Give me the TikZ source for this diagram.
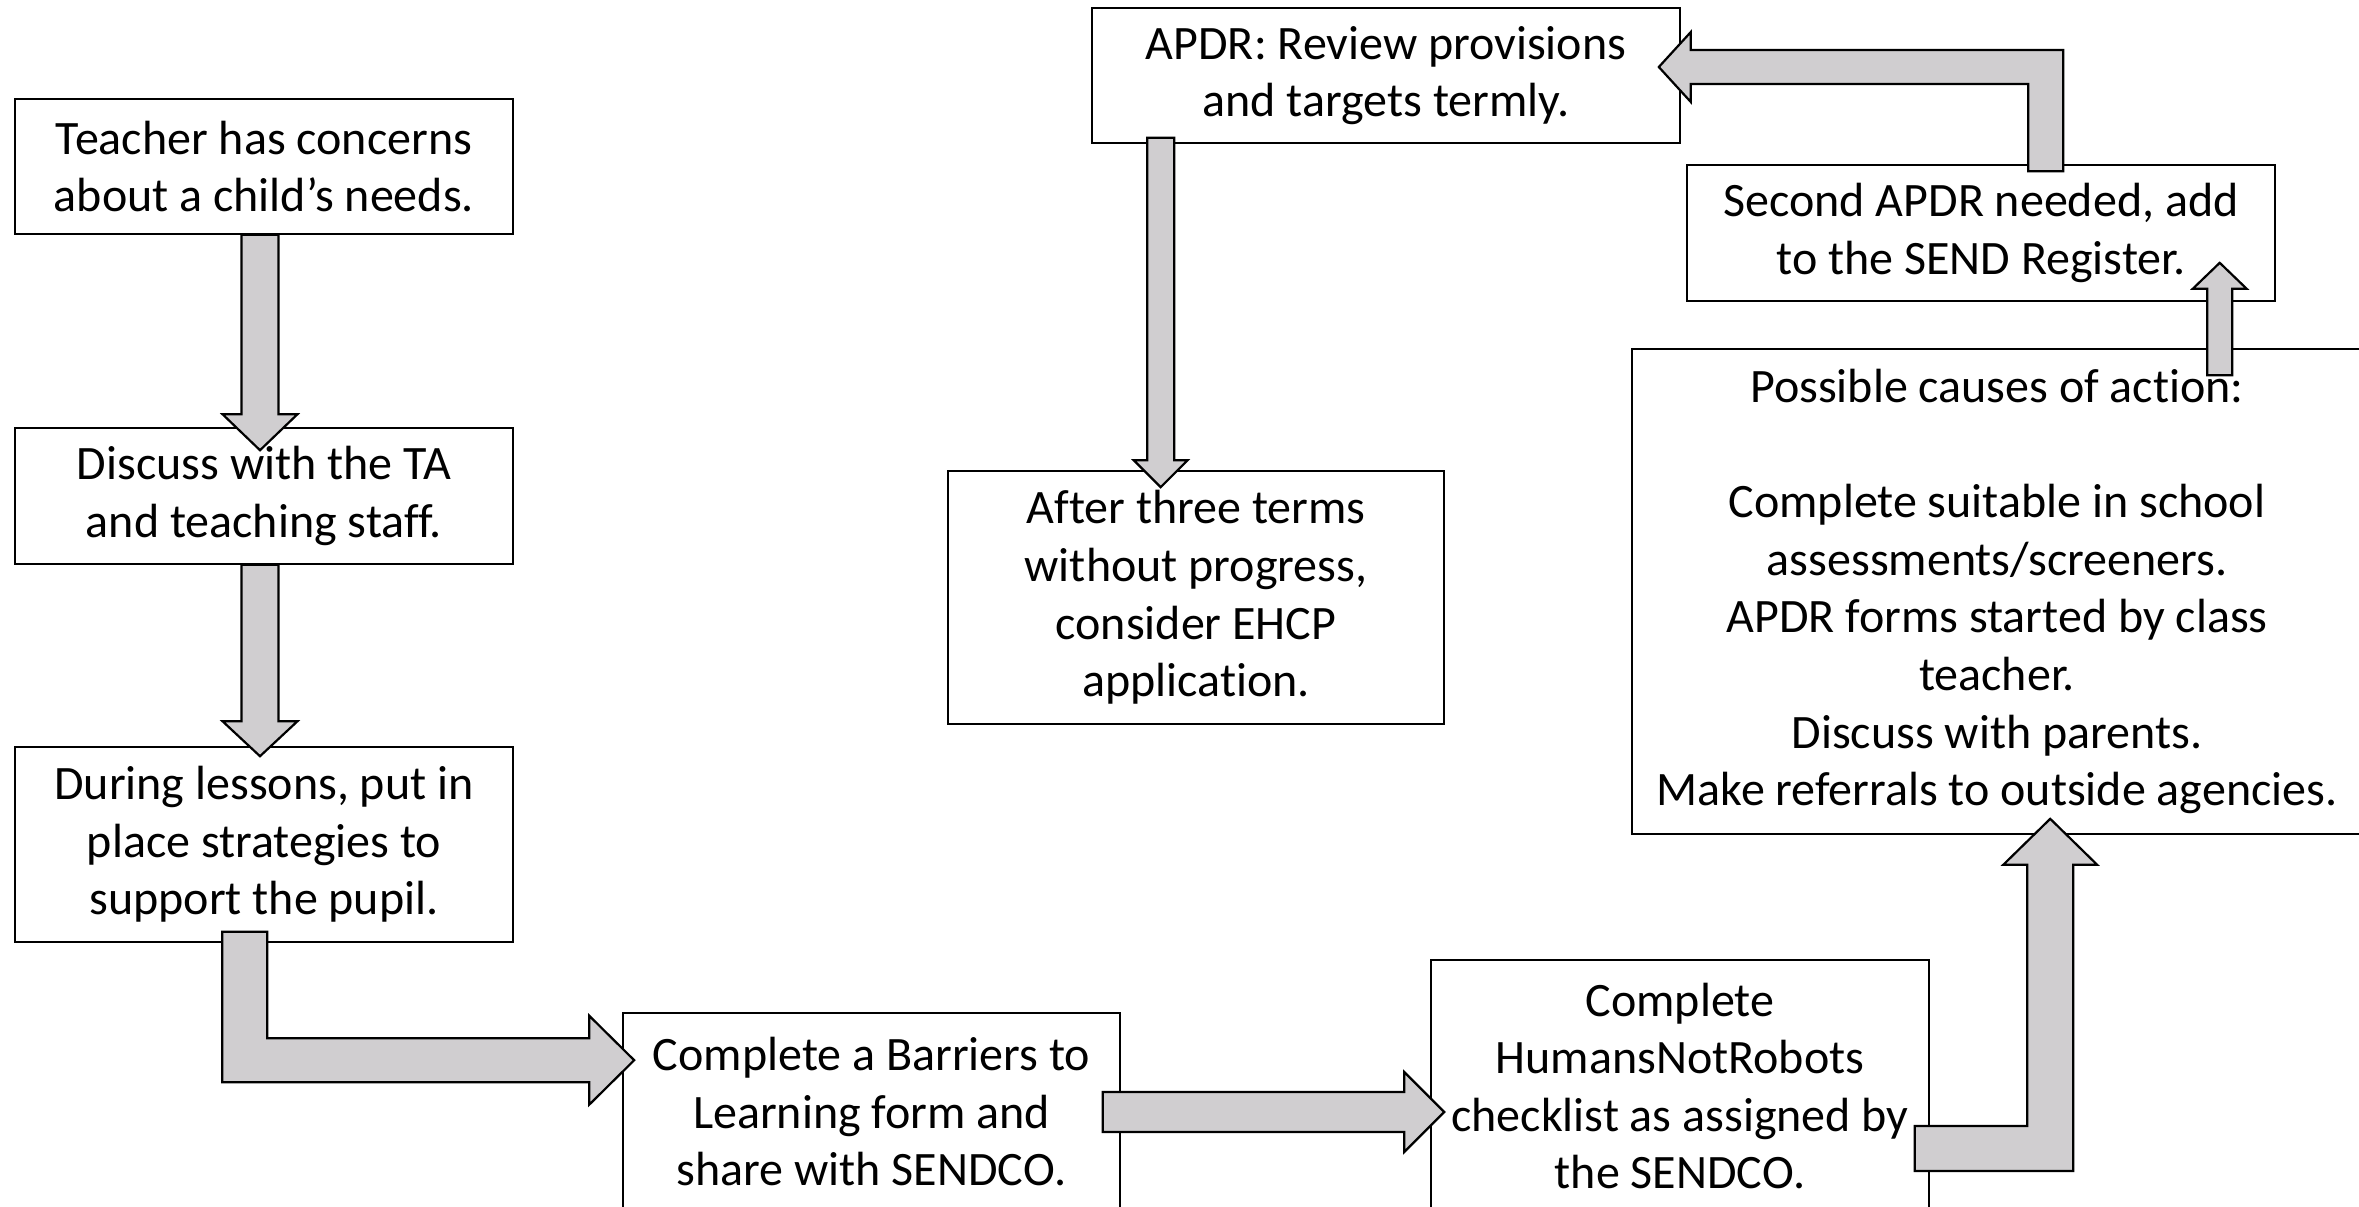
\documentclass[tikz,border=0pt]{standalone}
\usepackage{fontspec}
\setmainfont{Carlito}[Ligatures=NoCommon]
\usetikzlibrary{calc}
\definecolor{arrowgray}{RGB}{208,206,208}
\tikzset{
  box/.style={draw=black, fill=white, line width=0.8pt, align=center, inner sep=0pt,
    font=\fontsize{24pt}{28.8pt}\selectfont},
  blk/.style={draw=black, fill=arrowgray, line width=1.1pt, line join=miter}
}
% vertical block arrow: #1 start, #2 tip, #3 shaft half, #4 head half, #5 signed offset tip->head base
\newcommand{\vblock}[5]{%
  \draw[blk] ($(#1)+(-#3,0)$) -- ($(#2)+(-#3,#5)$) -- ($(#2)+(-#4,#5)$) -- (#2)
    -- ($(#2)+(#4,#5)$) -- ($(#2)+(#3,#5)$) -- ($(#1)+(#3,0)$) -- cycle;}
% horizontal block arrow
\newcommand{\hblock}[5]{%
  \draw[blk] ($(#1)+(0,-#3)$) -- ($(#2)+(#5,-#3)$) -- ($(#2)+(#5,-#4)$) -- (#2)
    -- ($(#2)+(#5,#4)$) -- ($(#2)+(#5,#3)$) -- ($(#1)+(0,#3)$) -- cycle;}
\begin{document}
\begin{tikzpicture}[x=0.5pt,y=-0.5pt]
\useasboundingbox (0,0) rectangle (2359,1206);
\clip (0,0) rectangle (2359,1206);

% boxes
\node[box, minimum width=249pt, minimum height=67.5pt] (teacher) at (264,166.5)
  {Teacher has concerns\\about a child’s needs.};
\node[box, minimum width=249pt, minimum height=68pt] (discuss) at (264,496)
  {Discuss with the TA\\and teaching staff.};
\node[box, minimum width=249pt, minimum height=97.5pt] (during) at (264,844.5)
  {During lessons, put in\\place strategies to\\support the pupil.};
\node[box, minimum width=248.5pt, minimum height=98.5pt] (barriers) at (871.5,1111.5)
  {Complete a Barriers to\\Learning form and\\share with SENDCO.};
\node[box, minimum width=249pt, minimum height=126pt] (hnr) at (1680,1086)
  {Complete\\HumansNotRobots\\checklist as assigned by\\the SENDCO.};
\node[box, minimum width=365pt, minimum height=242.5pt] (possible) at (1997,591.5)
  {Possible causes of action:\\\mbox{}\\Complete suitable in school\\assessments/screeners.\\APDR forms started by class\\teacher.\\Discuss with parents.\\Make referrals to outside agencies.};
\node[box, minimum width=294pt, minimum height=68pt] (second) at (1981,233)
  {Second APDR needed, add\\to the SEND Register.};
\node[box, minimum width=294pt, minimum height=67.5pt] (apdr) at (1386,75.5)
  {APDR: Review provisions\\and targets termly.};
\node[box, minimum width=248pt, minimum height=126.5pt] (after) at (1196,597.5)
  {After three terms\\without progress,\\consider EHCP\\application.};

% A1 teacher -> discuss
\coordinate (a1s) at ($(teacher.south)+(-4,0)$);
\coordinate (a1t) at ($(a1s |- discuss.north)+(0,23)$);
\vblock{a1s}{a1t}{18.5}{37.5}{-36}

% A2 discuss -> during
\coordinate (a2s) at ($(discuss.south)+(-4,0)$);
\coordinate (a2t) at ($(a2s |- during.north)+(0,10)$);
\vblock{a2s}{a2t}{18.5}{37.5}{-35}

% A3 during -> barriers (elbow)
\coordinate (a3s) at ($(during.south west)+(230.5,-11)$);
\coordinate (a3t) at ($(barriers.north west)+(12,48)$);
\coordinate (a3c) at (a3s |- a3t);
\draw[blk] ($(a3s)+(-22.5,0)$) -- ($(a3c)+(-22.5,22)$) -- ($(a3t)+(-45,22)$)
  -- ($(a3t)+(-45,44.5)$) -- (a3t) -- ($(a3t)+(-45,-44.5)$) -- ($(a3t)+(-45,-22)$)
  -- ($(a3c)+(22.5,-22)$) -- ($(a3s)+(22.5,0)$) -- cycle;

% A4 barriers -> hnr
\coordinate (a4s) at ($(barriers.east)+(-18,0.5)$);
\coordinate (a4t) at ($(a4s -| hnr.west)+(14,0)$);
\hblock{a4s}{a4t}{20}{40}{-40}

% A5 hnr -> possible (elbow)
\coordinate (a5s) at ($(hnr.east)+(-15,62.5)$);
\coordinate (a5t) at ($(possible.south west)+(419,-16)$);
\coordinate (a5c) at (a5t |- a5s);
\draw[blk] ($(a5s)+(0,-22.5)$) -- ($(a5c)+(-23,-22.5)$) -- ($(a5t)+(-23,46)$)
  -- ($(a5t)+(-47,46)$) -- (a5t) -- ($(a5t)+(47,46)$) -- ($(a5t)+(23,46)$)
  -- ($(a5c)+(23,22.5)$) -- ($(a5s)+(0,22.5)$) -- cycle;

% A6 possible -> second
\coordinate (a6s) at ($(possible.north west)+(588.5,27)$);
\coordinate (a6t) at ($(a6s |- second.south)+(0,-39)$);
\vblock{a6s}{a6t}{12.5}{27}{26}

% A7 second -> apdr (elbow)
\coordinate (a7s) at ($(second.north west)+(359.5,7)$);
\coordinate (a7t) at ($(apdr.east)+(-22,-8.5)$);
\coordinate (a7c) at (a7s |- a7t);
\draw[blk] ($(a7s)+(-17.5,0)$) -- ($(a7c)+(-17.5,17)$) -- ($(a7t)+(32,17)$)
  -- ($(a7t)+(32,35)$) -- (a7t) -- ($(a7t)+(32,-35)$) -- ($(a7t)+(32,-17)$)
  -- ($(a7c)+(17.5,-17)$) -- ($(a7s)+(17.5,0)$) -- cycle;

% A8 apdr -> after
\coordinate (a8s) at ($(apdr.south west)+(69.5,-6)$);
\coordinate (a8t) at ($(a8s |- after.north)+(0,17)$);
\vblock{a8s}{a8t}{13.5}{27}{-27}
\end{tikzpicture}
\end{document}
